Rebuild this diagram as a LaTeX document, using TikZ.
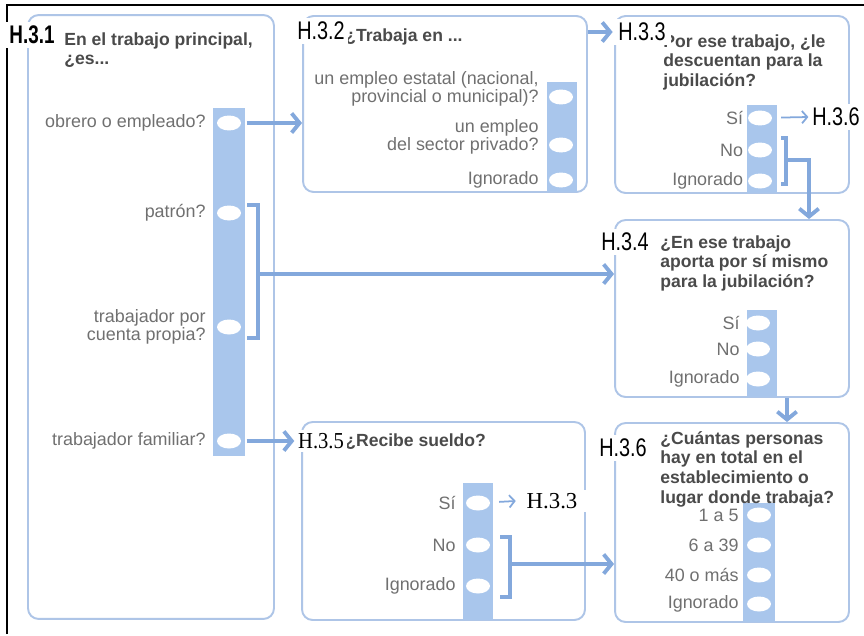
\documentclass[tikz,border=0pt]{standalone}
\usepackage{fontspec}
\setsansfont{Liberation Sans}
\newfontfamily\labserif{Liberation Serif}
\usepackage{graphicx}
\usepackage{xcolor}
\usetikzlibrary{positioning, arrows.meta, shapes.geometric}

\definecolor{boxline}{HTML}{AEC5E7}
\definecolor{barfill}{HTML}{A9C6EC}
\definecolor{flowblue}{HTML}{83A8DC}
\definecolor{qtext}{HTML}{4A4A4A}
\definecolor{otext}{HTML}{707070}

\newcommand{\hlab}[1]{\scalebox{0.78}[1]{\sffamily\fontsize{14.5}{14.5}\selectfont #1}}
\newcommand{\hlabb}[1]{\scalebox{0.74}[1]{\sffamily\bfseries\fontsize{14.5}{14.5}\selectfont #1}}
\newcommand{\hlabs}[1]{{\labserif\fontsize{13}{13}\selectfont #1}}

\begin{document}
\begin{tikzpicture}[x=0.02cm, y=-0.02cm,
    question/.style={rectangle, rounded corners=6pt, draw=boxline, line width=1.1pt, fill=white, inner sep=0pt},
    bar/.style={rectangle, fill=barfill, inner sep=0pt, minimum width=0.6cm},
    choice/.style={ellipse, fill=white, inner sep=0pt, minimum width=0.48cm, minimum height=0.3cm},
    option/.style={font=\sffamily\fontsize{10.2}{10.2}\selectfont, text=otext, align=right, inner sep=1pt},
    title/.style={font=\sffamily\bfseries\fontsize{10}{11.2}\selectfont, text=qtext, align=left, anchor=north west, inner sep=0pt},
    tag/.style={fill=white, text=black, inner sep=2pt},
    flow/.style={draw=flowblue, line width=2.2pt, -{Straight Barb[length=4.5pt, width=11pt]}},
    thinflow/.style={draw=flowblue, line width=1pt, -{Straight Barb[length=3pt, width=7pt]}},
    bracket/.style={draw=flowblue, line width=2.1pt}
]

\useasboundingbox (0,0) rectangle (864,635);
\draw[line width=1.7pt] (7,634) -- (7,5) -- (864,5);

\node[question, minimum width=4.92cm, minimum height=12.08cm] (trabajo) at (151,317) {};
\node[question, minimum width=5.68cm, minimum height=3.52cm] (sector) at (445,104) {};
\node[question, minimum width=4.68cm, minimum height=3.54cm] (descuento) at (732,104.5) {};
\node[question, minimum width=4.68cm, minimum height=3.54cm] (aporte) at (732,308.5) {};
\node[question, minimum width=5.66cm, minimum height=3.96cm] (sueldo) at (443.5,521) {};
\node[question, minimum width=4.68cm, minimum height=3.98cm] (personas) at (732,522.5) {};

\node[bar, minimum width=0.64cm, minimum height=6.98cm] (col1) at (229,282) {};
\node[bar, minimum height=2.2cm] (col2) at (562,137) {};
\node[bar, minimum height=1.76cm] (col3) at (762,149) {};
\node[bar, minimum height=1.74cm] (col4) at (762,353.5) {};
\node[bar, minimum height=2.74cm] (col5) at (478,551.5) {};
\node[bar, minimum width=0.64cm, minimum height=2.38cm] (col6) at (759,562.5) {};

\node[title] (t1) at (64,32) {En el trabajo principal,\\¿es...};
\node[title] (t2) at (345,28) {¿Trabaja en ...};
\node[title] (t3) at (663,34) {Por ese trabajo, ¿le\\descuentan para la\\jubilación?};
\node[title] (t4) at (660,235) {¿En ese trabajo\\aporta por sí mismo\\para la jubilación?};
\node[title] (t5) at (345,433) {¿Recibe sueldo?};
\node[title] (t6) at (660,431) {¿Cuántas personas\\hay en total en el\\establecimiento o\\lugar donde trabaja?};

\node[choice] (obrero) at (229,123) {};
\node[choice] (patron) at (229,213) {};
\node[choice] (cuenta) at (229,327) {};
\node[choice] (familiar) at (229,441) {};
\node[option, left=0.18cm of obrero] (lobrero) {obrero o empleado?};
\node[option, left=0.18cm of patron] (lpatron) {patrón?};
\node[option, left=0.18cm of cuenta] (lcuenta) {trabajador por\\cuenta propia?};
\node[option, left=0.18cm of familiar] (lfamiliar) {trabajador familiar?};

\node[choice] (estatal) at (561,97) {};
\node[choice] (privado) at (561,145) {};
\node[choice] (ign2) at (561,180) {};
\node[option, left=0.16cm of estatal, yshift=0.17cm] (lestatal) {un empleo estatal (nacional,\\provincial o municipal)?};
\node[option, left=0.16cm of privado, yshift=0.17cm] (lprivado) {un empleo\\del sector privado?};
\node[option, left=0.16cm of ign2] (lign2) {Ignorado};

\node[choice] (si3) at (760,118) {};
\node[choice] (no3) at (760,150) {};
\node[choice] (ign3) at (760,181) {};
\node[option, left=0.05cm of si3] (lsi3) {Sí};
\node[option, left=0.05cm of no3] (lno3) {No};
\node[option, left=0.05cm of ign3] (lign3) {Ignorado};

\node[choice] (si4) at (758,323) {};
\node[choice] (no4) at (758,349) {};
\node[choice] (ign4) at (758,379) {};
\node[option, left=0.08cm of si4] (lsi4) {Sí};
\node[option, left=0.08cm of no4] (lno4) {No};
\node[option, left=0.08cm of ign4] (lign4) {Ignorado};

\node[choice] (si5) at (478,503) {};
\node[choice] (no5) at (478,545) {};
\node[choice] (ign5) at (478,586) {};
\node[option, left=0.16cm of si5] (lsi5) {Sí};
\node[option, left=0.16cm of no5] (lno5) {No};
\node[option, left=0.16cm of ign5] (lign5) {Ignorado};

\node[choice] (p1) at (759,515) {};
\node[choice] (p2) at (759,545) {};
\node[choice] (p3) at (759,575) {};
\node[choice] (p4) at (759,604) {};
\node[option, left=0.12cm of p1] (lp1) {1 a 5};
\node[option, left=0.12cm of p2] (lp2) {6 a 39};
\node[option, left=0.12cm of p3] (lp3) {40 o más};
\node[option, left=0.12cm of p4] (lp4) {Ignorado};

\node[tag] (h31) at (32,35) {\hlabb{H.3.1}};
\node[tag] (h32) at (321,31) {\hlab{H.3.2}};
\node[tag, minimum width=1.16cm] (h33) at (642,32) {\hlab{H.3.3}};
\node[tag] (h36a) at (836,117) {\hlab{H.3.6}};
\node[tag] (h34) at (625,242) {\hlab{H.3.4}};
\node[tag] (h35) at (321,441) {\scalebox{0.9}[1]{\hlabs{H.3.5}}};
\node[tag, inner xsep=6pt] (h33b) at (552,501) {\hlabs{H.3.3}};
\node[tag] (h36) at (623,448) {\hlab{H.3.6}};

\draw[flow, shorten <=3pt] (obrero) -- (obrero -| sector.west);
\draw[flow, shorten <=3pt] (familiar) -- (familiar -| h35.west);
\draw[flow] (sector.east |- h33) -- (h33.west);

\draw[bracket] (247,205) -- (258,205) -- (258,338) -- (247,338);
\coordinate (k1) at (258,274);
\draw[flow] (k1) -- (k1 -| aporte.west);

\draw[thinflow, shorten <=5pt] (si3) -- (h36a.west);
\draw[bracket] (781,138) -- (786,138) -- (786,184) -- (781,184);
\coordinate (k2) at (786,160);
\coordinate (k2t) at (809,160);
\draw[flow] (k2) -- (k2t) -- (k2t |- aporte.north);

\coordinate (k3) at (787,0);
\draw[flow] (aporte.south -| k3) -- (personas.north -| k3);

\draw[thinflow, shorten <=5pt] (si5) -- (h33b.west);
\draw[bracket] (500,537) -- (510,537) -- (510,597) -- (500,597);
\coordinate (k4) at (510,564);
\draw[flow] (k4) -- (k4 -| personas.west);

\end{tikzpicture}
\end{document}
